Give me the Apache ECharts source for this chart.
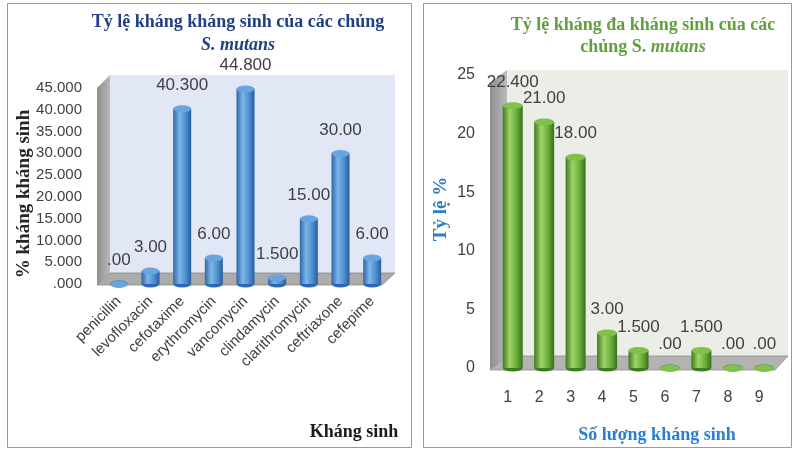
<!DOCTYPE html>
<html>
<head>
<meta charset="utf-8">
<script src="https://cdn.jsdelivr.net/npm/echarts@6/dist/echarts.min.js"></script>
<style>
  html, body { margin: 0; padding: 0; background: #fff; }
  #chart { width: 796px; height: 450px; }
</style>
</head>
<body>
<div id="chart"></div>
<script>
// left panel: resistance per antibiotic
var leftCats = ['penicillin', 'levofloxacin', 'cefotaxime', 'erythromycin', 'vancomycin', 'clindamycin', 'clarithromycin', 'ceftriaxone', 'cefepime'];
var leftValues = [0, 3, 40.3, 6, 44.8, 1.5, 15, 30, 6];
var leftLabels = ['.00', '3.00', '40.300', '6.00', '44.800', '1.500', '15.00', '30.00', '6.00'];
var leftTicks = ['.000', '5.000', '10.000', '15.000', '20.000', '25.000', '30.000', '35.000', '40.000', '45.000'];

// right panel: multi-resistance by number of antibiotics
var rightCats = ['1', '2', '3', '4', '5', '6', '7', '8', '9'];
var rightValues = [22.4, 21, 18, 3, 1.5, 0, 1.5, 0, 0];
var rightLabels = ['22.400', '21.00', '18.00', '3.00', '1.500', '.00', '1.500', '.00', '.00'];
var rightTicks = ['0', '5', '10', '15', '20', '25'];

var serif = '"Liberation Serif", "DejaVu Serif", serif';
var sans = '"Liberation Sans", Arial, sans-serif';

var chart = echarts.init(document.getElementById('chart'));

function gradH(stops) {
    return new echarts.graphic.LinearGradient(0, 0, 1, 0, stops);
}

var blueBody = gradH([
    {offset: 0, color: '#2d66a8'},
    {offset: 0.35, color: '#7db6ea'},
    {offset: 0.7, color: '#4d8fd0'},
    {offset: 1, color: '#275d9e'}
]);
var greenBody = gradH([
    {offset: 0, color: '#3d7a1e'},
    {offset: 0.35, color: '#9fd46a'},
    {offset: 0.7, color: '#6aac3a'},
    {offset: 1, color: '#386f1b'}
]);

function cylinder(xi, values, labels, body, top, bottom, w) {
    return [
        {
            type: 'bar',
            xAxisIndex: xi, yAxisIndex: xi,
            data: values,
            barWidth: w,
            z: 3,
            itemStyle: {color: body},
            label: {
                show: true,
                position: 'top',
                distance: 15,
                fontFamily: sans,
                fontSize: 17,
                color: '#404040',
                formatter: function (p) { return labels[p.dataIndex]; }
            }
        },
        {
            type: 'pictorialBar',
            xAxisIndex: xi, yAxisIndex: xi,
            data: values,
            symbol: 'circle',
            symbolSize: [w, 7],
            symbolPosition: 'end',
            symbolOffset: [0, '-50%'],
            barGap: '-100%',
            z: 4,
            itemStyle: {color: top, borderColor: bottom, borderWidth: 0.6}
        },
        {
            type: 'pictorialBar',
            xAxisIndex: xi, yAxisIndex: xi,
            data: values,
            symbol: 'circle',
            symbolSize: [w, 7],
            symbolPosition: 'start',
            symbolOffset: [0, '50%'],
            barGap: '-100%',
            z: 2,
            itemStyle: {color: bottom}
        }
    ];
}

var option = {
    backgroundColor: '#fff',
    animation: false,
    grid: [
        {left: 103, right: 408, top: 88, bottom: 166},
        {left: 497, right: 16, top: 75, bottom: 82}
    ],
    xAxis: [
        {
            type: 'category', gridIndex: 0, data: leftCats,
            axisLine: {show: false}, axisTick: {show: false},
            axisLabel: {interval: 0, rotate: 45, margin: 15, fontFamily: sans, fontSize: 15, color: '#404040'}
        },
        {
            type: 'category', gridIndex: 1, data: rightCats,
            axisLine: {show: false}, axisTick: {show: false},
            axisLabel: {interval: 0, margin: 22, padding: [0, 10, 0, 0], fontFamily: sans, fontSize: 16, color: '#404040'}
        }
    ],
    yAxis: [
        {
            type: 'value', gridIndex: 0, min: 0, max: 45, interval: 5,
            splitLine: {show: false}, axisLine: {show: false}, axisTick: {show: false},
            axisLabel: {
                margin: 21, fontFamily: sans, fontSize: 15, color: '#404040',
                formatter: function (v) { return leftTicks[Math.round(v / 5)]; }
            }
        },
        {
            type: 'value', gridIndex: 1, min: 0, max: 25, interval: 5,
            splitLine: {show: false}, axisLine: {show: false}, axisTick: {show: false},
            axisLabel: {
                margin: 22, fontFamily: sans, fontSize: 16, color: '#404040',
                formatter: function (v) { return rightTicks[Math.round(v / 5)]; }
            }
        }
    ],
    graphic: [
        // panel frames
        {type: 'rect', shape: {x: 7.5, y: 3.5, width: 404, height: 444}, style: {fill: '#fff', stroke: '#9a9a9a', lineWidth: 1}, z: -10},
        {type: 'rect', shape: {x: 423.5, y: 3.5, width: 368, height: 444}, style: {fill: '#fff', stroke: '#9a9a9a', lineWidth: 1}, z: -10},

        // left 3D walls
        {type: 'rect', shape: {x: 110, y: 75, width: 285, height: 198}, style: {fill: '#e2e7f5'}, z: -5},
        {type: 'polygon', shape: {points: [[97, 88], [110, 75], [110, 273], [97, 285]]},
            style: {fill: gradH([{offset: 0, color: '#8e8e8e'}, {offset: 1, color: '#b9b9b9'}])}, z: -5},
        {type: 'polygon', shape: {points: [[97, 285], [110, 273], [395, 273], [382, 285]]},
            style: {fill: '#ababab', stroke: '#8a8a8a', lineWidth: 0.8}, z: -5},

        // right 3D walls
        {type: 'rect', shape: {x: 507, y: 70, width: 281, height: 286}, style: {fill: '#eaeee7'}, z: -5},
        {type: 'polygon', shape: {points: [[490, 83], [507, 70], [507, 356], [490, 370]]},
            style: {fill: gradH([{offset: 0, color: '#8e8e8e'}, {offset: 1, color: '#bcbcbc'}])}, z: -5},
        {type: 'polygon', shape: {points: [[490, 370], [507, 356], [788, 356], [775, 370]]},
            style: {fill: '#b3b3b3', stroke: '#8e8e8e', lineWidth: 0.8}, z: -5},

        // titles
        {type: 'text', x: 238, y: 22, style: {text: 'Tỷ lệ kháng kháng sinh của các chủng', font: 'bold 18px ' + serif, fill: '#223e86', align: 'center', verticalAlign: 'middle'}},
        {type: 'text', x: 238, y: 45, style: {text: 'S. mutans', font: 'italic bold 18px ' + serif, fill: '#223e86', align: 'center', verticalAlign: 'middle'}},
        {type: 'text', x: 643, y: 25, style: {text: 'Tỷ lệ kháng đa kháng sinh của các', font: 'bold 18px ' + serif, fill: '#62a03e', align: 'center', verticalAlign: 'middle'}},
        {type: 'text', x: 643, y: 47, style: {
            text: '{a|chủng S. }{b|mutans}', align: 'center', verticalAlign: 'middle',
            rich: {
                a: {font: 'bold 18px ' + serif, fill: '#62a03e', color: '#62a03e'},
                b: {font: 'italic bold 18px ' + serif, fill: '#62a03e', color: '#62a03e'}
            }
        }},

        // axis names
        {type: 'text', x: 24, y: 194, rotation: Math.PI / 2, style: {text: '% kháng kháng sinh', font: 'bold 19px ' + serif, fill: '#262626', align: 'center', verticalAlign: 'middle'}},
        {type: 'text', x: 354, y: 432, style: {text: 'Kháng sinh', font: 'bold 18px ' + serif, fill: '#1a1a1a', align: 'center', verticalAlign: 'middle'}},
        {type: 'text', x: 441, y: 209, rotation: Math.PI / 2, style: {text: 'Tỷ lệ %', font: 'bold 19px ' + serif, fill: '#2a7fd0', align: 'center', verticalAlign: 'middle'}},
        {type: 'text', x: 657, y: 435, style: {text: 'Số lượng kháng sinh', font: 'bold 18px ' + serif, fill: '#2a7fd0', align: 'center', verticalAlign: 'middle'}}
    ],
    series: []
        .concat(cylinder(0, leftValues, leftLabels, blueBody, '#6aa5de', '#2f68aa', 18))
        .concat(cylinder(1, rightValues, rightLabels, greenBody, '#7fc24b', '#3f7b20', 20))
};

chart.setOption(option);
</script>
</body>
</html>
